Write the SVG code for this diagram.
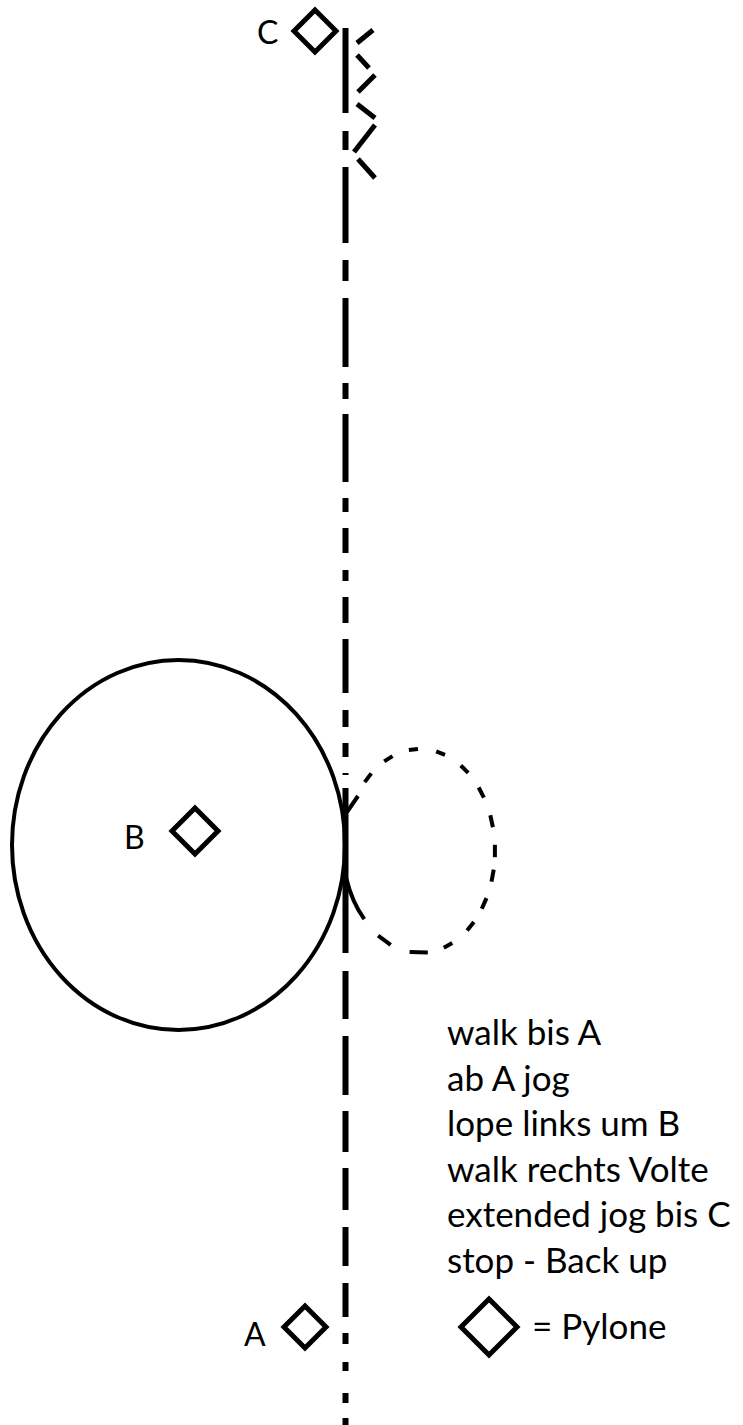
<svg xmlns="http://www.w3.org/2000/svg" width="743" height="1425" viewBox="0 0 743 1425">
<style>
.pylon{fill:none;stroke:#000;stroke-width:5;stroke-linejoin:miter}
.lbl{font-family:Lato,"Liberation Sans",sans-serif;font-size:32px;fill:#000}
.txt{font-family:Lato,"Liberation Sans",sans-serif;font-size:35px;fill:#000}
.track{fill:none;stroke:#000;stroke-width:6;stroke-linecap:butt}
.thin{fill:none;stroke:#000;stroke-width:4;stroke-linecap:butt}
.zig{fill:none;stroke:#000;stroke-width:5;stroke-linecap:butt}
</style>
<rect width="743" height="1425" fill="#fff"/>
<g id="connectors">
  <path class="track" d="M345.5 28V113M345.5 131V150M345.5 167V243M345.5 260V281M345.5 298V367M345.5 383V399M345.5 414V482M345.5 498V512M345.5 528V553M345.5 570V581M345.5 597V623M345.5 639V693M345.5 710V727M345.5 743V757M345.5 773V775M345.5 788V953M345.5 971V1019M345.5 1036V1095M345.5 1111V1152M345.5 1168V1210M345.5 1227V1266M345.5 1283V1317M345.5 1333V1344M345.5 1362V1371M345.5 1393V1403M345.5 1418V1425"/>
  <ellipse class="thin" cx="178.5" cy="845" rx="166.5" ry="185"/>
  <g id="volte" class="thin">
    <path d="M347 812L358 796"/>
    <path d="M364.7 782.1L371.3 773.4"/>
    <path d="M384.2 761.4L392.5 756.1"/>
    <path d="M408.9 750.1L418 749"/>
    <path d="M436.2 751.4L445 754.9"/>
    <path d="M460.8 765.5L468.2 772.9"/>
    <path d="M478.7 787.5L483.9 797.7"/>
    <path d="M490.3 815.3L492.9 827.2"/>
    <path d="M494.9 844.8L494.9 857.2"/>
    <path d="M493.7 869.6L491.5 881.7"/>
    <path d="M486.5 898.1L481.8 908.8"/>
    <path d="M473.9 922L467.1 930.4"/>
    <path d="M452.3 943.1L443.8 947.7"/>
    <path d="M427.8 952.4L409.6 952"/>
    <path d="M390.7 944.9L378.1 935.6"/>
    <path d="M364.3 919.2A75 102 0 0 1 346.5 879"/>
  </g>
  <g id="backup" class="zig">
    <path d="M357 43L373 30"/>
    <path d="M357 55L369 68"/>
    <path d="M358 92L375 75"/>
    <path d="M357 104L375 118"/>
    <path d="M375 125L354 152"/>
    <path d="M358 159L375 178"/>
  </g>
</g>
<g id="node-C">
  <path class="pylon" d="M315 10L336 31L315 52L294 31Z"/>
  <text class="lbl" x="257" y="44">C</text>
</g>
<g id="node-B">
  <path class="pylon" d="M195 808L218 831L195 854L172 831Z"/>
  <text class="lbl" x="124" y="849">B</text>
</g>
<g id="node-A">
  <path class="pylon" d="M305 1306L326 1327L305 1348L284 1327Z"/>
  <text class="lbl" x="244" y="1346">A</text>
</g>
<g id="instructions">
  <text class="txt" x="447" y="1045">walk bis A</text>
  <text class="txt" x="447" y="1091">ab A jog</text>
  <text class="txt" x="447" y="1136">lope links um B</text>
  <text class="txt" x="447" y="1182">walk rechts Volte</text>
  <text class="txt" x="447" y="1227">extended jog bis C</text>
  <text class="txt" x="447" y="1273">stop - Back up</text>
</g>
<g id="legend">
  <path class="pylon" d="M489 1299L517 1327L489 1355L461 1327Z"/>
  <text class="txt" x="532" y="1339">= Pylone</text>
</g>
</svg>
